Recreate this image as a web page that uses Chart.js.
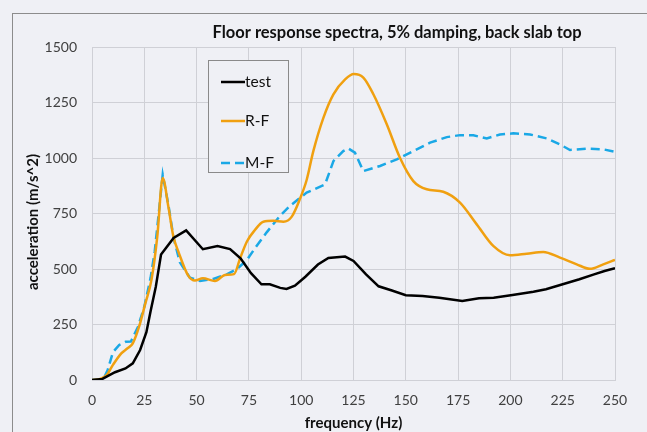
<!DOCTYPE html>
<html>
<head>
<meta charset="utf-8">
<script src="https://cdn.jsdelivr.net/npm/chart.js@4.4.1/dist/chart.umd.min.js"></script>
<style>
html,body{margin:0;padding:0;background:#eff0f5;}
#wrap{width:647px;height:432px;}
</style>
</head>
<body>
<div id="wrap"><canvas id="c" width="647" height="432"></canvas></div>
<script>
// ---- data ----
const chartTitle = "Floor response spectra, 5% damping, back slab top";
const xTitle = "frequency (Hz)";
const yTitle = "acceleration (m/s^2)";
const seriesNames = ["test", "R-F", "M-F"];

const freqTest = [0, 5, 11, 16, 19.5, 23, 26, 28, 30.5, 33, 39, 45, 53, 60, 66, 71, 76, 81, 85, 90, 93, 97, 102, 108, 113, 121, 125, 131, 137, 143, 150, 158, 166, 177, 185, 192, 201, 211, 217, 225, 233, 240, 245, 250];
const accTest  = [0, 5, 35, 52, 75, 135, 215, 310, 420, 565, 640, 674, 589, 604, 590, 548, 481, 431, 431, 415, 410, 425, 465, 520, 550, 556, 536, 476, 422, 404, 382, 378, 371, 356, 368, 371, 383, 398, 409, 431, 454, 476, 491, 503];

const freqRF = [0, 4, 7, 10, 14, 17, 19.5, 22.5, 25.5, 28.5, 31.2, 33.8, 36.5, 38.9, 41.3, 46, 49.2, 53, 58.8, 63.6, 67.9, 70.8, 74, 77.9, 81.9, 86.7, 91.5, 95.5, 99.5, 102.6, 105.8, 110.6, 115.4, 121, 125.2, 129.7, 134.5, 140.9, 147.2, 153.6, 160, 167.9, 175.9, 183.9, 191.8, 199.8, 207.8, 215.7, 223.7, 231.7, 238, 244.4, 250];
const accRF  = [0, 5, 22, 68, 120, 143, 165, 240, 345, 455, 646, 910, 781, 646, 578, 470, 448, 458, 446, 473, 477, 548, 623, 676, 713, 717, 713, 736, 818, 901, 1031, 1181, 1287, 1354, 1378, 1362, 1287, 1152, 1001, 896, 859, 848, 799, 701, 604, 562, 569, 577, 551, 521, 501, 521, 541];

const freqMF = [0, 5.5, 7.5, 10, 13, 16, 18.6, 22, 25, 28, 30, 32, 33.8, 36.5, 39, 42, 46.8, 51.6, 58, 64.4, 69.2, 74, 78, 83.5, 89.9, 94.6, 102.6, 111.4, 115.4, 120.1, 122.5, 125.7, 129.7, 137.7, 145.7, 153.6, 161.6, 169.6, 175.9, 182.3, 188.7, 195, 201.4, 209.4, 217.4, 223.7, 228.5, 236.5, 244.4, 250];
const accMF  = [0, 5, 45, 125, 158, 172, 173, 240, 330, 460, 580, 760, 925, 790, 640, 530, 461, 446, 455, 476, 499, 540, 595, 665, 740, 784, 844, 881, 986, 1031, 1043, 1024, 941, 964, 994, 1031, 1069, 1094, 1103, 1102, 1088, 1106, 1111, 1106, 1088, 1061, 1036, 1042, 1039, 1028];

const xTicks = [0, 25, 50, 75, 100, 125, 150, 175, 200, 225, 250];
const yTicks = [0, 250, 500, 750, 1000, 1250, 1500];

// ---- styling ----
const BG = '#eff0f5';
const GRID = '#cfd0d6';
const FONT = 'Lato, "Open Sans", sans-serif';

function pts(xs, ys){ return xs.map((x,i)=>({x:x, y:ys[i]})); }

const decor = {
  id: 'decor',
  beforeDraw(chart){
    const ctx = chart.ctx;
    ctx.save();
    ctx.fillStyle = BG;
    ctx.fillRect(0,0,chart.width,chart.height);
    ctx.strokeStyle = '#8c8c8c';
    ctx.lineWidth = 1;
    ctx.strokeRect(12.5, 13.5, 800, 600);
    ctx.restore();
  },
  afterDraw(chart){
    const ctx = chart.ctx;
    ctx.save();
    // title
    ctx.fillStyle = '#111';
    ctx.font = 'bold 16.5px ' + FONT;
    ctx.textAlign = 'center';
    ctx.textBaseline = 'middle';
    ctx.fillText(chartTitle, 397, 33);
    // y axis title
    ctx.save();
    ctx.translate(33, 222);
    ctx.rotate(-Math.PI/2);
    ctx.font = 'bold 15px ' + FONT;
    ctx.fillText(yTitle, 0, 0);
    ctx.restore();
    // legend
    const bx = 208.5, by = 60.5, bw = 80, bh = 112;
    ctx.fillStyle = BG;
    ctx.fillRect(bx, by, bw, bh);
    ctx.strokeStyle = '#8a8a8a';
    ctx.lineWidth = 1;
    ctx.strokeRect(bx, by, bw, bh);
    const rows = [82, 121, 163];
    chart.data.datasets.forEach((ds, i) => {
      const y = rows[i];
      ctx.beginPath();
      ctx.strokeStyle = ds.borderColor;
      ctx.lineWidth = ds.borderWidth;
      ctx.setLineDash(ds.borderDash || []);
      ctx.moveTo(221, y);
      ctx.lineTo(245, y);
      ctx.stroke();
      ctx.setLineDash([]);
      ctx.fillStyle = '#111';
      ctx.font = '15.5px ' + FONT;
      ctx.textAlign = 'left';
      ctx.textBaseline = 'middle';
      ctx.fillText(ds.label, 245, y);
    });
    ctx.restore();
  }
};

new Chart(document.getElementById('c'), {
  type: 'line',
  data: {
    datasets: [
      { label: seriesNames[0], data: pts(freqTest, accTest), borderColor: '#000000', borderWidth: 2.5, pointRadius: 0, tension: 0, fill: false },
      { label: seriesNames[1], data: pts(freqRF, accRF), borderColor: '#f0a010', borderWidth: 2.5, pointRadius: 0, cubicInterpolationMode: 'monotone', fill: false },
      { label: seriesNames[2], data: pts(freqMF, accMF), borderColor: '#1aa8e6', borderWidth: 2.5, borderDash: [9,5], pointRadius: 0, tension: 0, fill: false }
    ]
  },
  options: {
    responsive: false,
    animation: false,
    devicePixelRatio: 1,
    layout: { padding: { left: 0, right: 32, top: 47, bottom: 0 } },
    plugins: { legend: { display: false }, title: { display: false }, tooltip: { enabled: false } },
    scales: {
      x: {
        type: 'linear', min: 0, max: 250,
        afterBuildTicks(s){ s.ticks = xTicks.map(v=>({value:v})); },
        afterFit(s){ s.height = 52; },
        grid: { color: GRID, lineWidth: 1, drawTicks: false },
        border: { display: true, color: GRID },
        ticks: { padding: 12, color: '#404040', font: { family: FONT, size: 14 }, maxRotation: 0, callback: v => String(v) },
        title: { display: true, text: xTitle, color: '#111', font: { family: FONT, size: 15, weight: 'bold' }, padding: { top: 0, bottom: 0 } }
      },
      y: {
        type: 'linear', min: 0, max: 1500,
        afterBuildTicks(s){ s.ticks = yTicks.map(v=>({value:v})); },
        afterFit(s){ s.width = 92; },
        grid: { color: GRID, lineWidth: 1, drawTicks: false },
        border: { display: true, color: GRID },
        ticks: { padding: 15, color: '#404040', font: { family: FONT, size: 14 }, callback: v => String(v) }
      }
    }
  },
  plugins: [decor]
});
</script>
</body>
</html>
